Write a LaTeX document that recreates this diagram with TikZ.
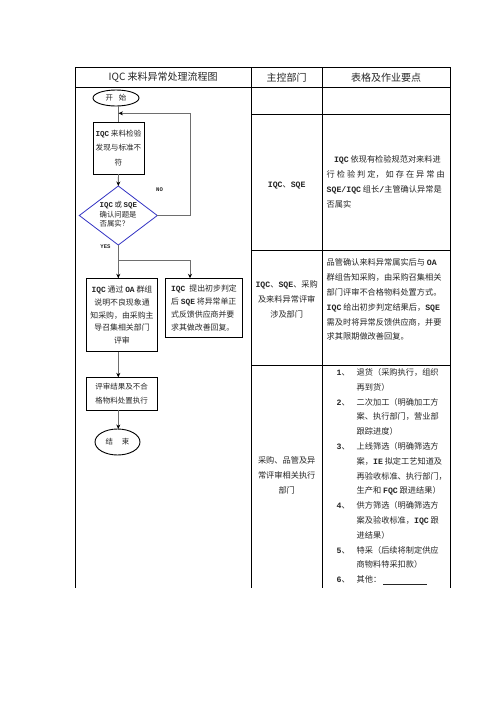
\documentclass[tikz,border=0pt]{standalone}
\usepackage{fontspec}
\setmainfont{Noto Sans CJK SC}
\newfontfamily\enf{Liberation Mono}
\usetikzlibrary{shapes.geometric,arrows.meta}
\newcommand\en[1]{{\enf\bfseries #1}}
\definecolor{txtc}{HTML}{262626}
\definecolor{linec}{HTML}{6E6E6E}
\definecolor{diac}{HTML}{3333C4}
\begin{document}
\begin{tikzpicture}[x=1pt,y=-1pt,
  tbl/.style={draw=black,line width=1pt},
  hdr/.style={inner sep=0,outer sep=0,text=txtc,font=\fontsize{10}{12}\selectfont},
  body/.style={inner sep=0,outer sep=0,text=txtc,align=left,font=\fontsize{8.2}{14.8}\selectfont},
  cbody/.style={body,align=center,font=\fontsize{8.2}{15}\selectfont},
  box/.style={draw=black,line width=0.9pt,inner sep=0,outer sep=0,align=center,text=txtc,font=\fontsize{7.9}{12.6}\selectfont},
  ell/.style={draw=black,line width=0.9pt,ellipse,inner sep=0,outer sep=0,text=txtc,font=\fontsize{7.4}{9}\selectfont},
  dia/.style={draw=diac,line width=0.8pt,diamond,inner sep=0,outer sep=0,minimum width=78pt,minimum height=59pt},
  conn/.style={draw=linec,line width=0.9pt},
  arr/.style={conn,-{Stealth[length=4.5pt,width=4pt,color=black]}},
  lbl/.style={inner sep=0,outer sep=0,text=txtc,font=\fontsize{5.6}{6}\selectfont\enf\bfseries}
]
\useasboundingbox (0,0) rectangle (496,702);
\fill[white] (0,0) rectangle (496,702);

% table grid
\draw[tbl] (75,67.3) -- (450.5,67.3);
\draw[tbl] (75,87.3) -- (450.5,87.3);
\draw[tbl] (251.5,114) -- (450.5,114);
\draw[tbl] (251.5,250.5) -- (450.5,250.5);
\draw[tbl] (251.5,365) -- (450.5,365);
\draw[tbl] (75,67.3) -- (75,587.7);
\draw[tbl] (251.5,67.3) -- (251.5,587.7);
\draw[tbl] (322,67.3) -- (322,587.7);
\draw[tbl] (450.5,67.3) -- (450.5,587.7);

% header
\node[hdr] (h1) at (163.2,77.3) {IQC 来料异常处理流程图};
\node[hdr] (h2) at (286.7,77.3) {主控部门};
\node[hdr] (h3) at (386.2,77.3) {表格及作业要点};

% column 2
\node[cbody] (d2) at (286.7,186) {\en{IQC}、\en{SQE}};
\node[cbody] (d3) at (286.7,299.5) {\en{IQC}、\en{SQE}、采购\\及来料异常评审\\涉及部门};
\node[cbody] (d4) at (286.7,475) {采购、品管及异\\常评审相关执行\\部门};

% column 3
\node[body,anchor=west] (n2) at (326.7,182) {\hspace*{7.3pt}\en{IQC} 依现有检验规范对来料进\\
\makebox[118pt][s]{行\hfil 检\hfil 验\hfil 判\hfil 定，\hfil 如\hfil 存\hfil 在\hfil 异\hfil 常\hfil 由}\\
\en{SQE/IQC} 组长\en{/}主管确认异常是\\
否属实};
\node[body,anchor=west] (n3) at (326.7,299.7) {品管确认来料异常属实后与 \en{OA}\\
群组告知采购，由采购召集相关\\
部门评审不合格物料处置方式。\\
\en{IQC} 给出初步判定结果后，\en{SQE}\\
需及时将异常反馈供应商，并要\\
求其限期做改善回复。};
\node[body,anchor=west] (n4) at (336.7,476.7) {\makebox[20pt][l]{\en{1}、}退货（采购执行，组织\\
\hspace*{20pt}再到货）\\
\makebox[20pt][l]{\en{2}、}二次加工（明确加工方\\
\hspace*{20pt}案、执行部门，营业部\\
\hspace*{20pt}跟踪进度）\\
\makebox[20pt][l]{\en{3}、}上线筛选（明确筛选方\\
\hspace*{20pt}案，\en{IE} 拟定工艺知道及\\
\hspace*{20pt}再验收标准、执行部门，\\
\hspace*{20pt}生产和 \en{FQC} 跟进结果）\\
\makebox[20pt][l]{\en{4}、}供方筛选（明确筛选方\\
\hspace*{20pt}案及验收标准，\en{IQC} 跟\\
\hspace*{20pt}进结果）\\
\makebox[20pt][l]{\en{5}、}特采（后续将制定供应\\
\hspace*{20pt}商物料特采扣款）\\
\makebox[20pt][l]{\en{6}、}其他：\hspace{2pt}\rule[-2.4pt]{44pt}{0.7pt}};

% flowchart
\node[ell,minimum width=46pt,minimum height=16pt] (start) at (116,98) {开\hspace{6pt}始};
\node[box,minimum width=51pt,minimum height=52pt,font=\fontsize{7.6}{14.2}\selectfont] (b1) at (118.5,148) {\en{IQC} 来料检验\\发现与标准不\\符};
\node[dia] (dia) at (118.3,215.5) {};
\node[inner sep=0,outer sep=0,align=left,text=txtc,font=\fontsize{7.4}{9.2}\selectfont] (diat) at (118.3,214.3) {\en{IQC} 或 \en{SQE}\\确认问题是\\否属实？};
\node[box,minimum width=70.6pt,minimum height=73.4pt] (b2) at (122,315) {\en{IQC} 通过 \en{OA} 群组\\说明不良现象通\\知采购，由采购主\\导召集相关部门\\评审};
\node[box,align=left,minimum width=76.6pt,minimum height=59pt,font=\fontsize{7.9}{12.9}\selectfont] (b3) at (204,307.8) {\en{IQC}\hspace{4pt}提出初步判定\\后 \en{SQE} 将异常单正\\式反馈供应商并要\\求其做改善回复。};
\node[box,minimum width=71.3pt,minimum height=32.7pt,font=\fontsize{7.5}{13.4}\selectfont] (b4) at (121.7,393.7) {评审结果及不合\\格物料处置执行};
\node[ell,minimum width=45pt,minimum height=26pt] (end) at (117.5,442) {结\hspace{9pt}束};

\node[lbl] (no) at (159.5,190) {NO};
\node[lbl] (yes) at (105.5,246.5) {YES};

\coordinate (lpr) at (190,113.3);
\coordinate (lpj) at (118.5,113.3);
\coordinate (split) at (118.3,260);
\coordinate (splitr) at (190,260);

\draw[conn] (b1.north |- start.south) -- (b1.north);
\draw[arr] (b1.south) -- (dia.north);
\draw[arr] (dia.east) -| (lpr) -- (lpj);
\draw[conn] (dia.south) -- (split) -- (splitr);
\draw[arr] (split) -- (split |- b2.north);
\draw[arr] (splitr) -- (splitr |- b3.north);
\draw[arr] (b2.south -| split) -- (b4.north -| split);
\draw[arr] (b4.south -| split) -- (end.north -| split);
\end{tikzpicture}
\end{document}
